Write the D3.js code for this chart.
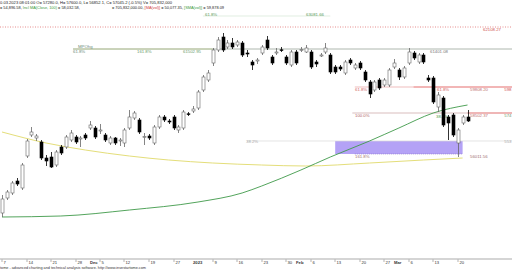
<!DOCTYPE html>
<html><head><meta charset="utf-8">
<script src="https://cdn.jsdelivr.net/npm/d3@7"></script>
<style>
body{margin:0;background:#fff;overflow:hidden}
svg{display:block}
text{font-family:"Liberation Sans",Arial,sans-serif}
</style>
</head><body>
<svg id="c" width="512" height="270"></svg>
<script>
// ---- data (daily candles, index 0 = 7 Nov 2022) ----
const opens  = [53250,54000,54250,54850,54500,56100,57150,57000,56800,56000,56050,55650,56550,56550,56900,57050,56950,57150,57500,57500,57350,57150,56750,57000,56850,56750,57500,58000,57900,57030,57100,56750,57550,58050,57850,58050,57400,57500,58210,58350,58500,59400,59900,60750,61400,62050,61550,61750,61650,61750,61250,60800,60850,61250,61900,61050,61250,61410,61050,60650,61300,61380,61300,61300,60800,61100,61300,61150,60550,60550,60250,60900,60500,60750,60300,59800,59400,59900,59650,59650,60550,60400,60050,60750,61250,60800,61150,60000,60000,58550,59000,58050,58150,56750,57750,58050];
const highs  = [54150,54400,54850,55000,55750,56950,57550,57200,56900,56150,56300,56400,56650,57150,57400,57150,57100,57250,57850,57600,57700,57250,57100,57050,57000,57500,58400,58350,58000,57250,57200,57650,58150,58150,57950,58150,57650,58400,58300,58600,59400,60150,60400,61500,62050,62250,61900,62000,61900,61850,61400,60900,61000,61650,62100,61150,61500,61550,61150,61400,61400,61550,61650,61400,60900,61250,61750,61250,60650,60650,60900,61000,60750,60850,60400,59900,59900,60000,60000,60500,60950,60500,60600,61500,61350,61250,61250,60150,60100,59300,59100,58150,58250,57500,58150,58400];
const lows   = [53050,53900,54150,54600,54400,56000,57050,56850,55900,55600,55500,55550,56150,56450,56800,56700,56550,56900,57400,56950,57200,56800,56650,56650,56600,56550,57400,57900,57200,56650,56900,56650,57450,57800,57700,57400,57250,57400,58100,58250,58400,59300,59800,60600,61300,61300,61450,61450,61550,61050,61050,60400,60700,61150,61400,60650,61150,61300,60650,60550,60650,61300,61250,60450,60550,61050,61200,60200,60200,60350,60150,60650,60400,60400,59800,59000,59300,59400,59550,59550,60450,59900,59950,60650,60900,60700,60700,59800,58700,58300,57550,56900,57050,56050,57650,57800];
const closes = [53950,54300,54750,54700,55650,56850,57300,57100,56000,55850,55550,56300,56250,57050,57250,56800,57000,57000,57650,57050,57400,56900,57000,56750,56900,57400,58050,58250,57300,57070,57000,57550,58050,57900,57800,57500,57550,58300,58190,58450,59300,60050,60250,61400,61900,61400,61750,61550,61800,61150,61200,60650,60900,61550,61500,60750,61300,61390,60750,61300,60750,61420,61500,60550,60700,61150,61500,60300,60300,60450,60800,60750,60650,60500,59900,59200,59800,59500,59900,60400,60750,60050,60500,61300,61000,61150,60800,59900,58800,59150,57650,57750,57150,57400,58050,57850];

// moving averages read at sample candles
const ma100Idx = [0,12,26,40,49,53,61,67,75,81,88,95];
const ma100Val = [53050,53100,53400,53800,54250,54600,55400,56050,56850,57500,58250,58650];
const ma200Idx = [0,9,17,26,34,43,53,62,75,86,94];
const ma200Val = [57300,56750,56400,56100,55900,55750,55650,55600,55750,55900,56000];

// x axis ticks
const tickIdx    = [0,5,10,15,18,20,25,30,35,39,43,48,53,58,60,63,68,73,78,80,83,88,93];
const tickLabels = ["7","14","21","28","Dec","5","12","19","27","2023","9","16","23","30","Feb","6","13","20","27","Mar","6","13","20"];
const tickBold   = [0,0,0,0,1,0,0,0,0,1,0,0,0,0,1,0,0,0,0,1,0,0,0];

// drawing-tool levels
const levelPrices = [63100,62550,61450,59550,58250,56850,56200];
const levelLabels = ["63081.66","62108.27","61401.08","59808.20","58502.37","55...","56011.56"];
const zoneIdx = [68,94];
const zonePrices = [56850,56200];

const headerLine1 = "0.03.2023 08:01:00 O= 57280.0, H= 57600.0, L= 56852.1, C= 57045.2 (-0.5%) V= 705,832,000";
const footer = "tome - advanced charting and technical analysis software. http://www.investartome.com";

// ---- scales ----
const svg = d3.select("#c");
const x = d3.scaleLinear().domain([0, 95]).range([2, 467.5]);
const y = d3.scaleLinear().domain([52400, 63300]).range([230, 12]);
const W = 512;

// header
const hdr = svg.append("g").attr("font-size", 3.9).attr("fill", "#222");
hdr.append("text").attr("x", 0).attr("y", 4).attr("textLength", 172).attr("lengthAdjust","spacingAndGlyphs").text(headerLine1);
const l2 = hdr.append("text").attr("x", 0).attr("y", 8.5);
[["= 54,896.58, ","#222"],["Incl MA(Close, 100)","#3a9a3a"],[" = 58,032.58,","#222"]].forEach(p=>l2.append("tspan").attr("fill",p[1]).text(p[0]));
const l3 = hdr.append("text").attr("x", 112).attr("y", 8.5);
[["= 705,832,000.00, ","#222"],["[MA(vol)]","#d04040"],[" = 50,077.35, ","#222"],["[SMA(vol)]","#3a9a3a"],[" = 59,878.09","#222"]].forEach(p=>l3.append("tspan").attr("fill",p[1]).text(p[0]));

// zone rectangle
svg.append("rect")
  .attr("x", x(zoneIdx[0])).attr("width", x(zoneIdx[1]) - x(zoneIdx[0]))
  .attr("y", y(zonePrices[0])).attr("height", y(zonePrices[1]) - y(zonePrices[0]))
  .attr("fill", "#b4a2f6");

// level lines
const lv = svg.append("g").attr("font-size", 4.3);
// top green level
lv.append("line").attr("x1", x(41)).attr("x2", x(67)).attr("y1", y(levelPrices[0])).attr("y2", y(levelPrices[0])).attr("stroke","#cfe3cf").attr("stroke-width",0.6);
lv.append("text").attr("x", 205).attr("y", y(levelPrices[0]) - 0.5).attr("fill","#5a9a5a").text("61.8%");
lv.append("text").attr("x", 306).attr("y", y(levelPrices[0]) - 0.5).attr("fill","#5a9a5a").text(levelLabels[0]);
// red dotted
lv.append("line").attr("x1", 0).attr("x2", W).attr("y1", y(levelPrices[1])).attr("y2", y(levelPrices[1])).attr("stroke","#e07070").attr("stroke-width",0.8).attr("stroke-dasharray","1,1.5");
lv.append("text").attr("x", 483).attr("y", y(levelPrices[1]) + 4).attr("fill","#d05050").text(levelLabels[1]);
// gray level with MPO
lv.append("line").attr("x1", x(14.5)).attr("x2", W).attr("y1", y(levelPrices[2])).attr("y2", y(levelPrices[2])).attr("stroke","#9aa59a").attr("stroke-width",0.8);
lv.append("line").attr("x1", x(14.5)).attr("x2", x(43)).attr("y1", y(levelPrices[2])).attr("y2", y(levelPrices[2])).attr("stroke","#b8c890").attr("stroke-width",0.8);
lv.append("text").attr("x", 78).attr("y", y(levelPrices[2]) - 1.5).attr("fill","#6a8a7a").text("MPOhg");
lv.append("text").attr("x", 73).attr("y", y(levelPrices[2]) + 4).attr("fill","#6a8a7a").text("61.8%");
lv.append("text").attr("x", 137).attr("y", y(levelPrices[2]) + 4).attr("fill","#6a9a6a").text("161.8%");
lv.append("text").attr("x", 183).attr("y", y(levelPrices[2]) + 4).attr("fill","#6a9a6a").text("61502.95");
lv.append("text").attr("x", 430).attr("y", y(levelPrices[2]) + 4).attr("fill","#777").text(levelLabels[2]);
// red 61.8 level
lv.append("line").attr("x1", x(72)).attr("x2", W).attr("y1", y(levelPrices[3])).attr("y2", y(levelPrices[3])).attr("stroke","#e8a0a0").attr("stroke-width",0.7);
lv.append("line").attr("x1", x(84)).attr("x2", W).attr("y1", y(levelPrices[3])).attr("y2", y(levelPrices[3])).attr("stroke","#f0a8a8").attr("stroke-width",1.6);
lv.append("text").attr("x", 355).attr("y", y(levelPrices[3]) + 3.5).attr("fill","#d06060").text("61.8%");
lv.append("text").attr("x", 437).attr("y", y(levelPrices[3]) + 3.5).attr("fill","#d06060").text("61.8%");
lv.append("text").attr("x", 470).attr("y", y(levelPrices[3]) + 3.5).attr("fill","#c07070").text(levelLabels[3]);
lv.append("text").attr("x", 511.5).attr("text-anchor","end").attr("y", y(levelPrices[3]) + 4).attr("fill","#d05050").text("598");
// 100% level
lv.append("line").attr("x1", x(71.5)).attr("x2", W).attr("y1", y(levelPrices[4])).attr("y2", y(levelPrices[4])).attr("stroke","#c8a0a0").attr("stroke-width",0.7);
lv.append("line").attr("x1", x(95)).attr("x2", W).attr("y1", y(levelPrices[4])).attr("y2", y(levelPrices[4])).attr("stroke","#f0a8a8").attr("stroke-width",1.6);
lv.append("text").attr("x", 355).attr("y", y(levelPrices[4]) + 3.5).attr("fill","#b06060").text("100.0%");
lv.append("text").attr("x", 436).attr("y", y(levelPrices[4]) + 5).attr("fill","#4a9a4a").text("38.2%");
lv.append("text").attr("x", 470).attr("y", y(levelPrices[4]) + 3.5).attr("fill","#c07070").text(levelLabels[4]);
lv.append("text").attr("x", 511.5).attr("text-anchor","end").attr("y", y(levelPrices[4]) + 4).attr("fill","#6a9a6a").text("574");
// 38.2 gray level
lv.append("line").attr("x1", x(50)).attr("x2", W).attr("y1", y(levelPrices[5])).attr("y2", y(levelPrices[5])).attr("stroke","#d8d8d8").attr("stroke-width",0.7);
lv.append("text").attr("x", 246).attr("y", y(levelPrices[5]) + 2).attr("fill","#aaa").text("38.2%");
lv.append("text").attr("x", 511.5).attr("text-anchor","end").attr("y", y(levelPrices[5]) + 2).attr("fill","#aaa").text("553");
// 161.8 dotted
lv.append("line").attr("x1", x(72)).attr("x2", x(94)).attr("y1", y(levelPrices[6])).attr("y2", y(levelPrices[6])).attr("stroke","#8a70d0").attr("stroke-width",0.7).attr("stroke-dasharray","1,1");
lv.append("text").attr("x", 355).attr("y", y(levelPrices[6]) + 4).attr("fill","#a07070").text("161.8%");
lv.append("text").attr("x", 470).attr("y", y(levelPrices[6]) + 4).attr("fill","#a07070").text(levelLabels[6]);

// moving averages
const line = d3.line().curve(d3.curveMonotoneX);
svg.append("path").attr("d", line(ma200Idx.map((d,i)=>[x(d), y(ma200Val[i])])))
  .attr("fill","none").attr("stroke","#e4de7a").attr("stroke-width",1);
svg.append("path").attr("d", line(ma100Idx.map((d,i)=>[x(d), y(ma100Val[i])])))
  .attr("fill","none").attr("stroke","#3f9a4a").attr("stroke-width",0.9);

// candles
const cg = svg.append("g");
opens.forEach((o,i)=>{
  const c = closes[i], up = c >= o, cx = Math.round(x(i)) + 0.5;
  cg.append("line").attr("x1",cx).attr("x2",cx).attr("y1",y(highs[i])).attr("y2",y(lows[i]))
    .attr("stroke", up ? "#666" : "#000").attr("stroke-width",0.8);
  const top = y(Math.max(o,c)), bot = y(Math.min(o,c));
  cg.append("rect").attr("x", cx-1.5).attr("width",3).attr("y",top).attr("height",Math.max(0.8,bot-top))
    .attr("fill", up ? "#fff" : "#000").attr("stroke", up ? "#666" : "#000").attr("stroke-width",0.6);
});

// x axis
const axY = 259;
svg.append("line").attr("x1",0).attr("x2",W).attr("y1",axY).attr("y2",axY).attr("stroke","#888").attr("stroke-width",0.7);
const ax = svg.append("g").attr("font-size",4.2).attr("fill","#333");
tickIdx.forEach((t,k)=>{
  const tx = Math.round(x(t));
  if(!tickBold[k]) ax.append("line").attr("x1",tx).attr("x2",tx).attr("y1",axY+0.5).attr("y2",axY+3).attr("stroke","#666").attr("stroke-width",0.5);
  ax.append("text").attr("x", tx + (tickBold[k]?0:1.5)).attr("y", axY+5)
    .attr("font-weight", tickBold[k] ? "bold" : "normal").text(tickLabels[k]);
});
svg.append("text").attr("x",0).attr("y",269).attr("font-size",3.8).attr("fill","#333")
  .attr("textLength",146).attr("lengthAdjust","spacingAndGlyphs").text(footer);
</script>
</body></html>
